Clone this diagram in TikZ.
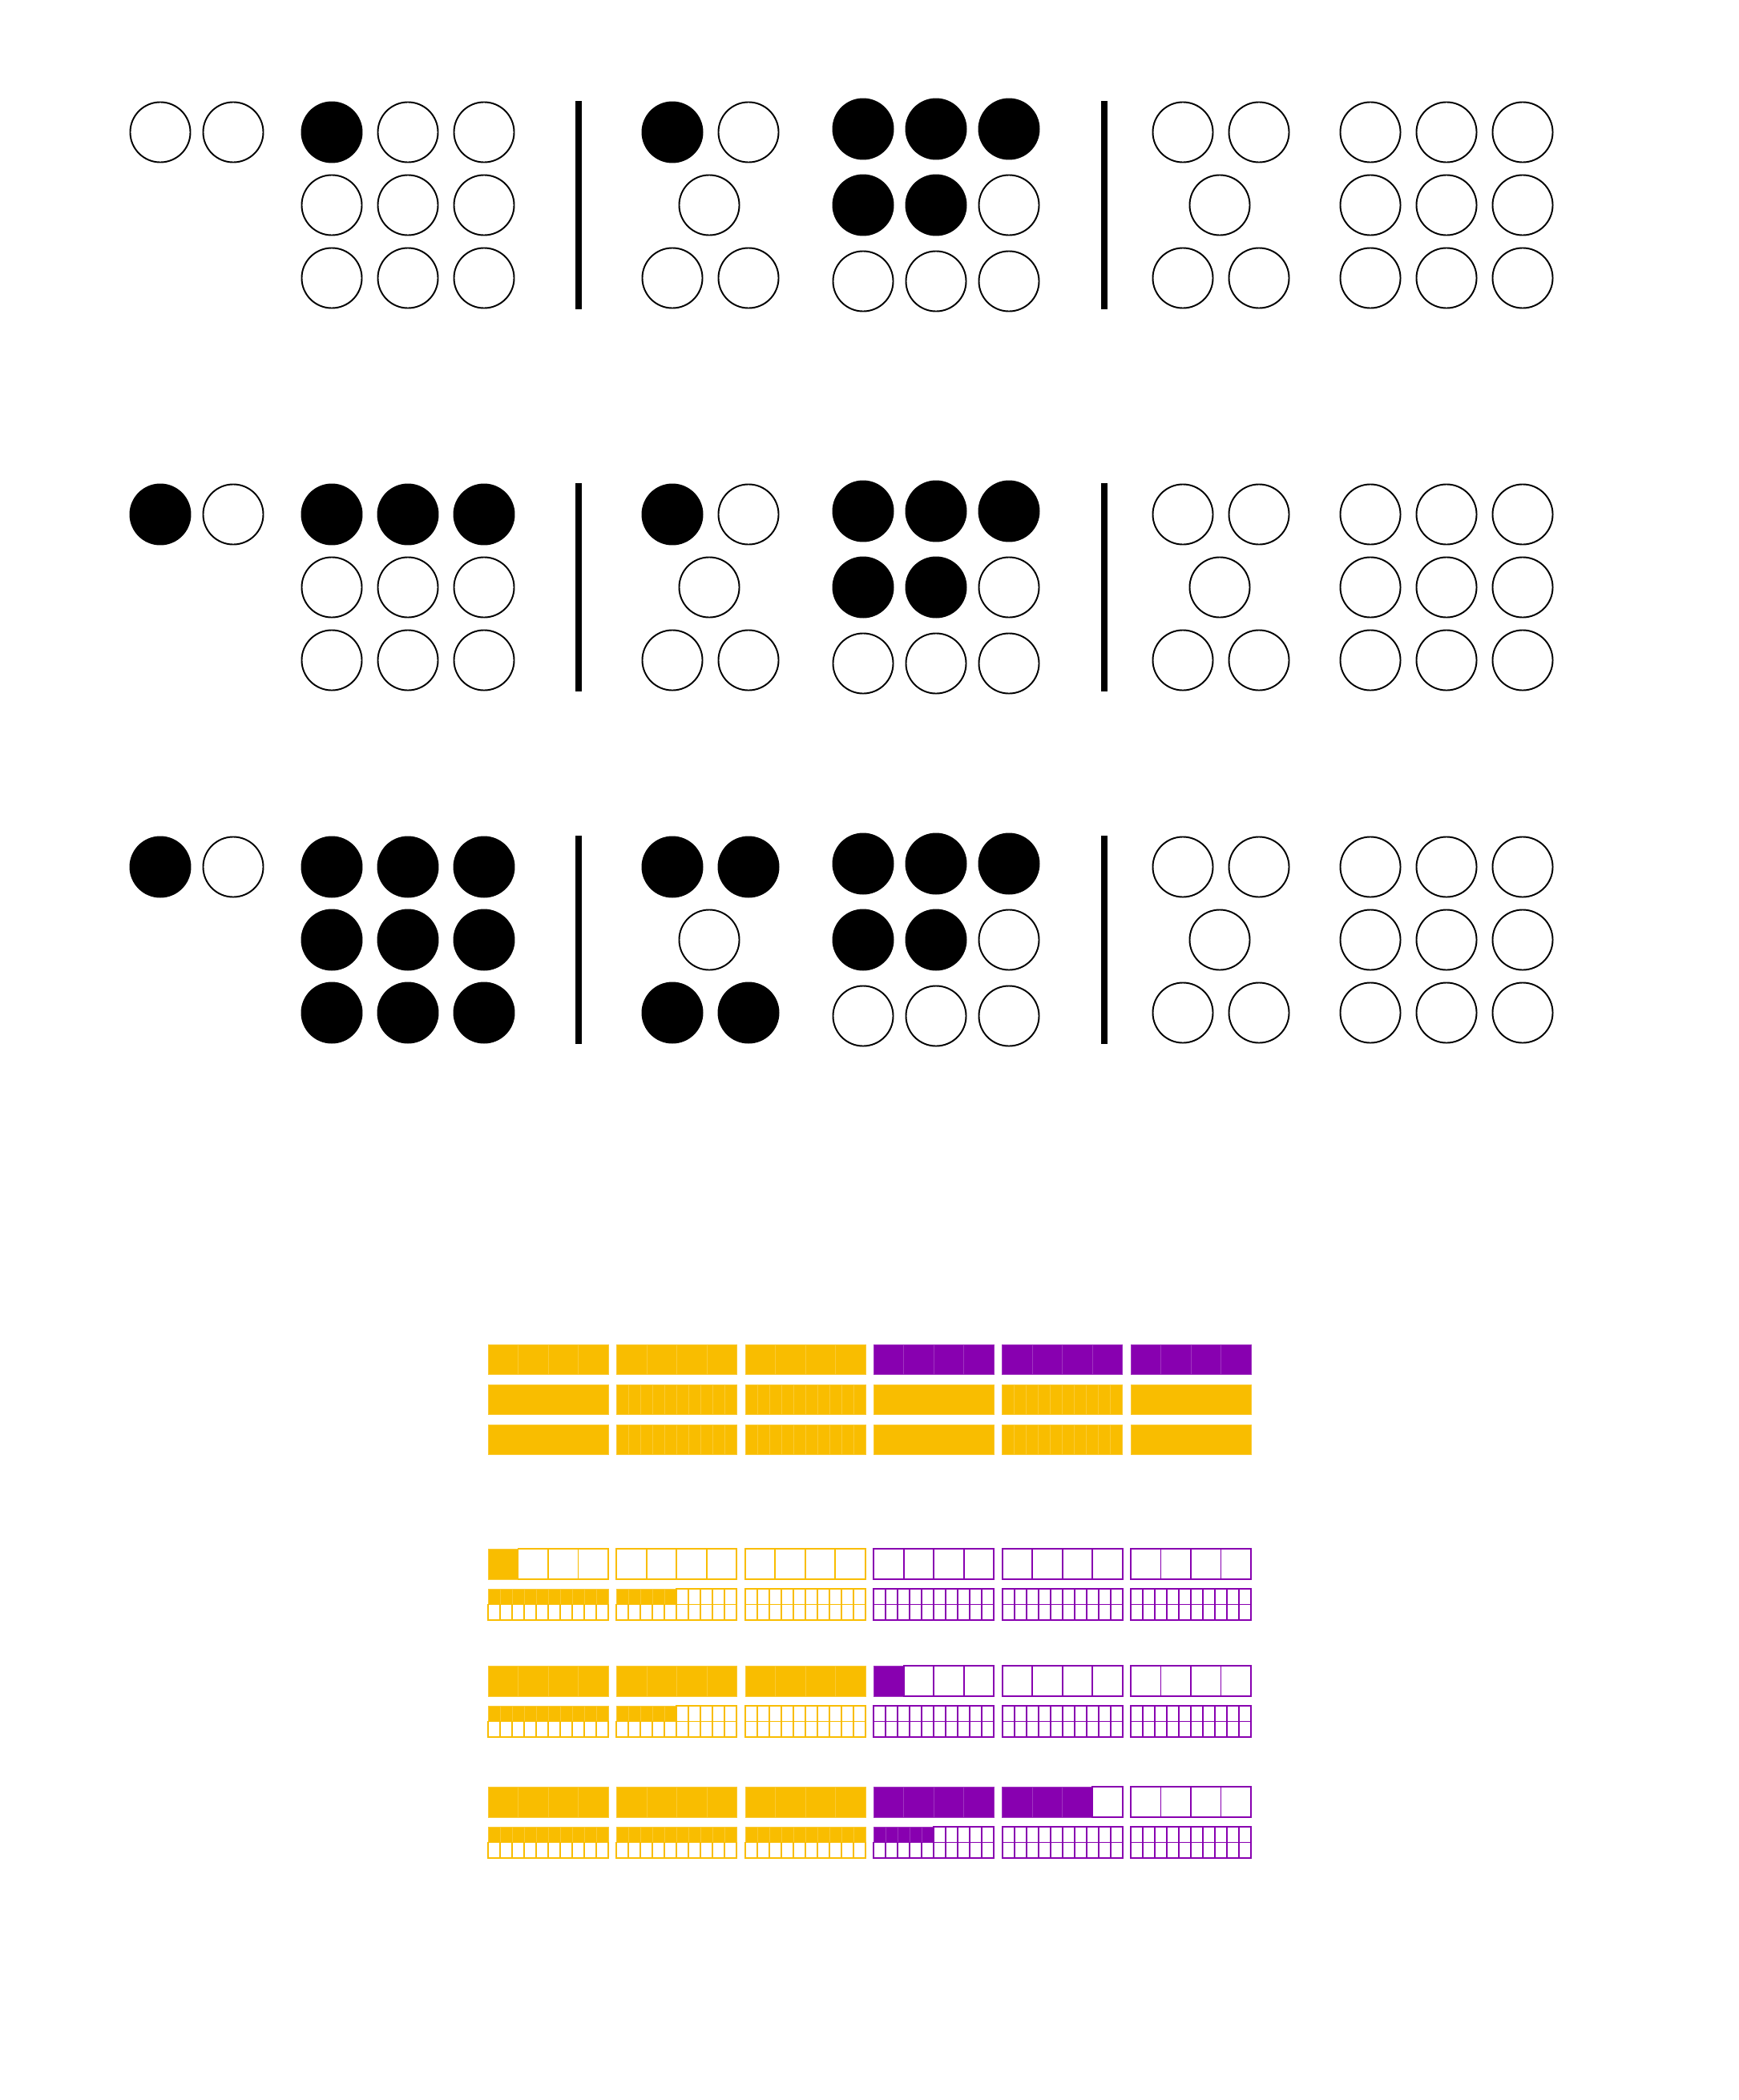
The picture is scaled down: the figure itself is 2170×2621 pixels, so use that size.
\documentclass[tikz,border=0pt]{standalone}
\definecolor{unitgold}{HTML}{F9BD00}
\definecolor{unitplum}{HTML}{8800B0}
\newcommand{\pickfill}[2]{\ifnum#1>#2\relax\def\fc{white}\else\def\fc{black}\fi}
\newcommand{\cellrow}[6]{%
  \pgfmathsetmacro\cw{150/#4}%
  \foreach \i in {1,...,#4} {%
    \ifnum\i>#5\relax
      \draw[cellempty=#6] ({#1+(\i-1)*\cw},#2) rectangle ++(\cw,#3);
    \else
      \draw[cellfull=#6] ({#1+(\i-1)*\cw},#2) rectangle ++(\cw,#3);
    \fi
  }}
\begin{document}
\begin{tikzpicture}[x=0.01cm, y=-0.01cm,
    bead/.style = {draw, circle, inner sep=0pt, minimum size=0.75cm, line width=0.55pt, fill=#1},
    bead/.default = white,
    rail/.style = {line width=0.08cm},
    cellempty/.style = {draw=#1, line width=0.55pt},
    cellfull/.style = {fill=#1, draw=#1!80!white, line width=0.15pt}]
\path[fill=white] (0,0) rectangle (2170,2621);

% three rows of beads
\foreach \by/\b/\np/\na/\nb/\nc in {0/1/0/1/1/5, 477/2/1/3/1/5, 917/3/1/9/4/5} {
  \foreach \k/\x in {1/200, 2/291} {
    \pickfill{\k}{\np}
    \node[bead=\fc] (p\b\k) at (\x,165+\by) {};
  }
  \foreach \r/\y in {1/165, 2/256, 3/347}
    \foreach \c/\x in {1/414, 2/509, 3/604} {
      \pgfmathtruncatemacro\k{3*(\r-1)+\c}
      \pickfill{\k}{\na}
      \node[bead=\fc] (a\b\k) at (\x,\y+\by) {};
    }
  \draw[rail] (722,126+\by) -- (722,386+\by);
  \foreach \k/\x/\y in {1/839/165, 2/934/165, 3/839/347, 4/934/347, 5/885/256} {
    \pickfill{\k}{\nb}
    \node[bead=\fc] (b\b\k) at (\x,\y+\by) {};
  }
  \foreach \r/\y in {1/161, 2/256, 3/351}
    \foreach \c/\x in {1/1077, 2/1168, 3/1259} {
      \pgfmathtruncatemacro\k{3*(\r-1)+\c}
      \pickfill{\k}{\nc}
      \node[bead=\fc] (c\b\k) at (\x,\y+\by) {};
    }
  \draw[rail] (1378,126+\by) -- (1378,386+\by);
  \foreach \x/\y [count=\k] in {1476/165, 1571/165, 1476/347, 1571/347, 1522/256}
    \node[bead] (d\b\k) at (\x,\y+\by) {};
  \foreach \r/\y in {1/165, 2/256, 3/347}
    \foreach \c/\x in {1/1710, 2/1805, 3/1900}
      \node[bead] (e\b\r\c) at (\x,\y+\by) {};
}

% full bars
\foreach \x/\col/\n in {609/unitgold/1, 769.4/unitgold/10, 929.8/unitgold/10,
                        1090.2/unitplum/1, 1250.6/unitplum/10, 1411/unitplum/1} {
  \cellrow{\x}{1678}{37.5}{4}{4}{\col}
  \cellrow{\x}{1728}{37.5}{\n}{\n}{unitgold}
  \cellrow{\x}{1778}{37.5}{\n}{\n}{unitgold}
}

% counted bars
\foreach \x/\col/\qa/\qb in {609/unitgold/1/10, 769.4/unitgold/0/5, 929.8/unitgold/0/0,
                             1090.2/unitplum/0/0, 1250.6/unitplum/0/0, 1411/unitplum/0/0} {
  \cellrow{\x}{1933}{38}{4}{\qa}{\col}
  \cellrow{\x}{1983}{19.5}{10}{\qb}{\col}
  \cellrow{\x}{2002.5}{19.5}{10}{0}{\col}
}
\foreach \x/\col/\qa/\qb in {609/unitgold/4/10, 769.4/unitgold/4/5, 929.8/unitgold/4/0,
                             1090.2/unitplum/1/0, 1250.6/unitplum/0/0, 1411/unitplum/0/0} {
  \cellrow{\x}{2079}{38}{4}{\qa}{\col}
  \cellrow{\x}{2129}{19.5}{10}{\qb}{\col}
  \cellrow{\x}{2148.5}{19.5}{10}{0}{\col}
}
\foreach \x/\col/\qa/\qb in {609/unitgold/4/10, 769.4/unitgold/4/10, 929.8/unitgold/4/10,
                             1090.2/unitplum/4/5, 1250.6/unitplum/3/0, 1411/unitplum/0/0} {
  \cellrow{\x}{2230}{38}{4}{\qa}{\col}
  \cellrow{\x}{2280}{19.5}{10}{\qb}{\col}
  \cellrow{\x}{2299.5}{19.5}{10}{0}{\col}
}
\end{tikzpicture}
\end{document}
